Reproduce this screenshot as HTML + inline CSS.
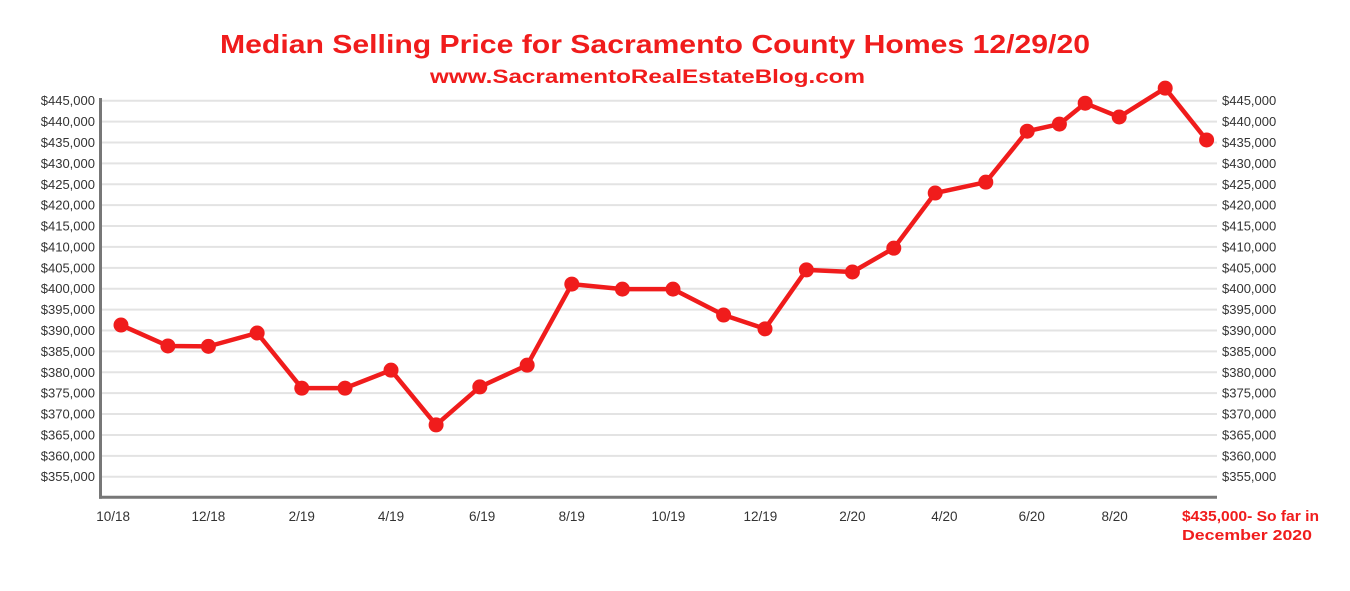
<!DOCTYPE html>
<html><head><meta charset="utf-8"><style>
body{margin:0;background:#fff;}
svg text{font-family:"Liberation Sans",sans-serif;}
</style></head><body>
<svg id="chart" width="1350" height="586" xmlns="http://www.w3.org/2000/svg">
<text x="220" y="53" textLength="870" lengthAdjust="spacingAndGlyphs" font-size="26" font-weight="bold" fill="#f01c1c">Median Selling Price for Sacramento County Homes 12/29/20</text>
<text x="430" y="83" textLength="435" lengthAdjust="spacingAndGlyphs" font-size="19" font-weight="bold" fill="#f01c1c">www.SacramentoRealEstateBlog.com</text>
<g id="grid"></g><g id="axes"></g><g id="series"></g>
<text x="1182" y="521" textLength="137" lengthAdjust="spacingAndGlyphs" font-size="15" font-weight="bold" fill="#f01c1c">$435,000- So far in</text>
<text x="1182" y="540" textLength="130" lengthAdjust="spacingAndGlyphs" font-size="15" font-weight="bold" fill="#f01c1c">December 2020</text>
</svg>
<script>
const months=[0,1.02,1.9,2.96,3.93,4.87,5.87,6.85,7.8,8.83,9.8,10.9,12,13.1,14,14.9,15.9,16.8,17.7,18.8,19.7,20.4,20.96,21.7,22.7,23.6];
const prices=[391300,386300,386200,389400,376200,376200,380500,367400,376500,381700,401100,399900,399900,393700,390400,404500,404000,409700,422900,425500,437700,439400,444400,441100,448000,435600];
const tickLabels=["10/18","12/18","2/19","4/19","6/19","8/19","10/19","12/19","2/20","4/20","6/20","8/20"];
const tickMonths=[-0.17,1.9,3.93,5.87,7.85,9.8,11.9,13.9,15.9,17.9,19.8,21.6];
const yTicks=[355000,360000,365000,370000,375000,380000,385000,390000,395000,400000,405000,410000,415000,420000,425000,430000,435000,440000,445000];
const NS="http://www.w3.org/2000/svg";
const x=m=>121+46*m;
const y=v=>100.7+(445000-v)*0.004178;
const X0=100.5,X1=1217,YB=497.3;
function mk(tag,attrs,parent){const e=document.createElementNS(NS,tag);for(const k in attrs)e.setAttribute(k,attrs[k]);document.getElementById(parent).appendChild(e);return e;}
const fmt=v=>"$"+v.toLocaleString("en-US");
yTicks.forEach(v=>{
 const g=mk("line",{x1:X0,x2:X1,y1:y(v),y2:y(v),stroke:"#e3e3e3","stroke-width":2},"grid");
 
 
 const l=mk("text",{x:95,y:y(v)+4.5,"text-anchor":"end","font-size":13,fill:"#333"},"axes");l.textContent=fmt(v);
 
 
 const r=mk("text",{x:1222,y:y(v)+4.5,"font-size":13,fill:"#333"},"axes");r.textContent=fmt(v);
 
 
});
const ya=mk("line",{x1:X0,x2:X0,y1:98,y2:YB+1.5,stroke:"#777","stroke-width":3},"axes");


const xa=mk("line",{x1:X0-1.5,x2:X1,y1:YB,y2:YB,stroke:"#777","stroke-width":3},"axes");


tickLabels.forEach((t,i)=>{
 const e=mk("text",{x:x(tickMonths[i]),y:521,"text-anchor":"middle","font-size":13.5,fill:"#333"},"axes");e.textContent=t;
 
 
});
const line=mk("polyline",{points:months.map((m,i)=>x(m)+","+y(prices[i])).join(" "),fill:"none",stroke:"#f01c1c","stroke-width":4.5,"stroke-linejoin":"round"},"series");


months.forEach((m,i)=>{
 const c=mk("circle",{cx:x(m),cy:y(prices[i]),r:7.5,fill:"#f01c1c"},"series");
 
 
});
</script>
</body></html>
